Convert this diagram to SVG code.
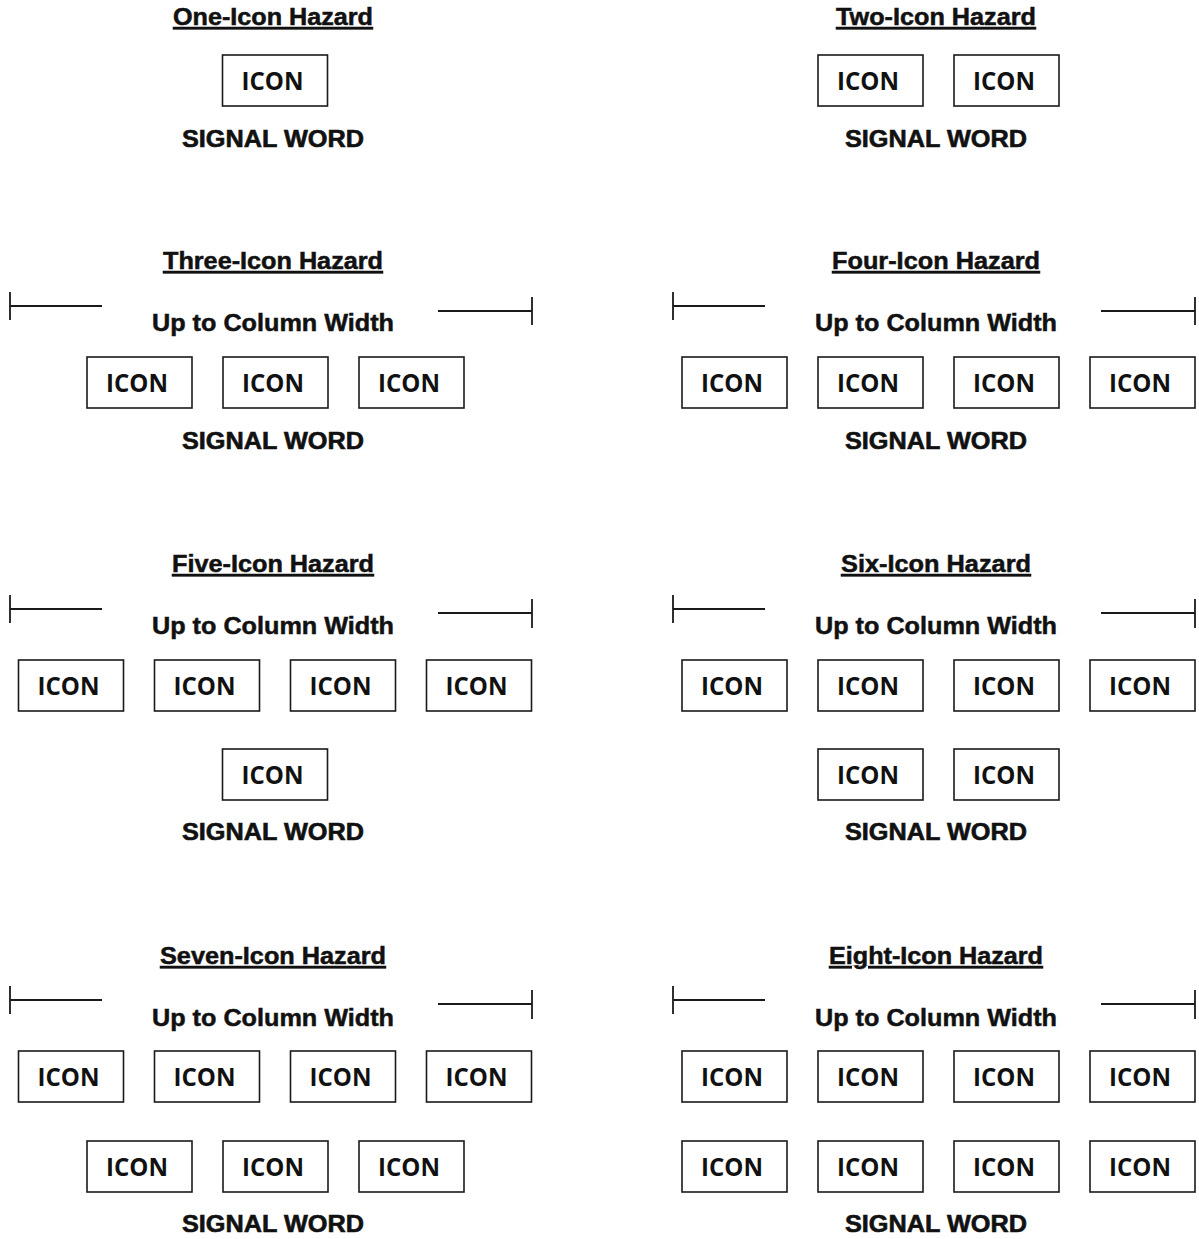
<svg xmlns="http://www.w3.org/2000/svg" width="1199" height="1239" viewBox="0 0 1199 1239">
<style>
.bg{fill:#fff}
.box{fill:#fff;stroke:#1a1a1a;stroke-width:1.6}
.bar{stroke:#1a1a1a;stroke-width:1.8;fill:none}
.icon{font-family:"Open Sans","Liberation Sans",sans-serif;font-weight:700;font-size:25.5px;fill:#111;text-anchor:middle}
.title{font-family:"Liberation Sans",Arial,sans-serif;font-weight:700;font-size:23px;fill:#111;stroke:#111;stroke-width:0.5;text-anchor:middle;text-decoration:underline}
.sig{font-family:"Liberation Sans",Arial,sans-serif;font-weight:700;font-size:23.5px;fill:#111;stroke:#111;stroke-width:0.6;text-anchor:middle}
.up{font-family:"Liberation Sans",Arial,sans-serif;font-weight:700;font-size:24px;fill:#111;stroke:#111;stroke-width:0.5;text-anchor:middle}
</style>
<defs>
<g id="iconbox">
<rect class="box" x="0" y="0" width="105" height="51"/>
<text class="icon" x="50" y="35" textLength="62" lengthAdjust="spacingAndGlyphs">ICON</text>
</g>
</defs>
<rect class="bg" width="1199" height="1239"/>

<g id="connectors">
<path class="bar" d="M10 292V320M10 306H102M438 311H532M532 297V325"/>
<path class="bar" d="M673 292V320M673 306H765M1101 311H1195M1195 297V325"/>
<path class="bar" d="M10 595V623M10 609H102M438 613H532M532 599V628"/>
<path class="bar" d="M673 595V623M673 609H765M1101 613H1195M1195 599V628"/>
<path class="bar" d="M10 986V1014M10 1000H102M438 1004H532M532 990V1019"/>
<path class="bar" d="M673 986V1014M673 1000H765M1101 1004H1195M1195 990V1019"/>
</g>

<!-- One-Icon -->
<g id="one-title"><text class="title" x="273" y="25" textLength="200" lengthAdjust="spacingAndGlyphs">One-Icon Hazard</text></g>
<g id="one-icon1"><use href="#iconbox" x="222.5" y="55"/></g>
<g id="one-signal"><text class="sig" x="273" y="147" textLength="182" lengthAdjust="spacingAndGlyphs">SIGNAL WORD</text></g>

<!-- Two-Icon -->
<g id="two-title"><text class="title" x="936" y="25" textLength="200" lengthAdjust="spacingAndGlyphs">Two-Icon Hazard</text></g>
<g id="two-icon1"><use href="#iconbox" x="818" y="55"/></g>
<g id="two-icon2"><use href="#iconbox" x="954" y="55"/></g>
<g id="two-signal"><text class="sig" x="936" y="147" textLength="182" lengthAdjust="spacingAndGlyphs">SIGNAL WORD</text></g>

<!-- Three-Icon -->
<g id="three-title"><text class="title" x="273" y="269" textLength="220" lengthAdjust="spacingAndGlyphs">Three-Icon Hazard</text></g>
<g id="three-width"><text class="up" x="273" y="331" textLength="242" lengthAdjust="spacingAndGlyphs">Up to Column Width</text></g>
<g id="three-icon1"><use href="#iconbox" x="87" y="357"/></g>
<g id="three-icon2"><use href="#iconbox" x="223" y="357"/></g>
<g id="three-icon3"><use href="#iconbox" x="359" y="357"/></g>
<g id="three-signal"><text class="sig" x="273" y="449" textLength="182" lengthAdjust="spacingAndGlyphs">SIGNAL WORD</text></g>

<!-- Four-Icon -->
<g id="four-title"><text class="title" x="936" y="269" textLength="208" lengthAdjust="spacingAndGlyphs">Four-Icon Hazard</text></g>
<g id="four-width"><text class="up" x="936" y="331" textLength="242" lengthAdjust="spacingAndGlyphs">Up to Column Width</text></g>
<g id="four-icon1"><use href="#iconbox" x="682" y="357"/></g>
<g id="four-icon2"><use href="#iconbox" x="818" y="357"/></g>
<g id="four-icon3"><use href="#iconbox" x="954" y="357"/></g>
<g id="four-icon4"><use href="#iconbox" x="1090" y="357"/></g>
<g id="four-signal"><text class="sig" x="936" y="449" textLength="182" lengthAdjust="spacingAndGlyphs">SIGNAL WORD</text></g>

<!-- Five-Icon -->
<g id="five-title"><text class="title" x="273" y="572" textLength="202" lengthAdjust="spacingAndGlyphs">Five-Icon Hazard</text></g>
<g id="five-width"><text class="up" x="273" y="634" textLength="242" lengthAdjust="spacingAndGlyphs">Up to Column Width</text></g>
<g id="five-icon1"><use href="#iconbox" x="18.5" y="660"/></g>
<g id="five-icon2"><use href="#iconbox" x="154.5" y="660"/></g>
<g id="five-icon3"><use href="#iconbox" x="290.5" y="660"/></g>
<g id="five-icon4"><use href="#iconbox" x="426.5" y="660"/></g>
<g id="five-icon5"><use href="#iconbox" x="222.5" y="749"/></g>
<g id="five-signal"><text class="sig" x="273" y="840" textLength="182" lengthAdjust="spacingAndGlyphs">SIGNAL WORD</text></g>

<!-- Six-Icon -->
<g id="six-title"><text class="title" x="936" y="572" textLength="190" lengthAdjust="spacingAndGlyphs">Six-Icon Hazard</text></g>
<g id="six-width"><text class="up" x="936" y="634" textLength="242" lengthAdjust="spacingAndGlyphs">Up to Column Width</text></g>
<g id="six-icon1"><use href="#iconbox" x="682" y="660"/></g>
<g id="six-icon2"><use href="#iconbox" x="818" y="660"/></g>
<g id="six-icon3"><use href="#iconbox" x="954" y="660"/></g>
<g id="six-icon4"><use href="#iconbox" x="1090" y="660"/></g>
<g id="six-icon5"><use href="#iconbox" x="818" y="749"/></g>
<g id="six-icon6"><use href="#iconbox" x="954" y="749"/></g>
<g id="six-signal"><text class="sig" x="936" y="840" textLength="182" lengthAdjust="spacingAndGlyphs">SIGNAL WORD</text></g>

<!-- Seven-Icon -->
<g id="seven-title"><text class="title" x="273" y="964" textLength="226" lengthAdjust="spacingAndGlyphs">Seven-Icon Hazard</text></g>
<g id="seven-width"><text class="up" x="273" y="1026" textLength="242" lengthAdjust="spacingAndGlyphs">Up to Column Width</text></g>
<g id="seven-icon1"><use href="#iconbox" x="18.5" y="1051"/></g>
<g id="seven-icon2"><use href="#iconbox" x="154.5" y="1051"/></g>
<g id="seven-icon3"><use href="#iconbox" x="290.5" y="1051"/></g>
<g id="seven-icon4"><use href="#iconbox" x="426.5" y="1051"/></g>
<g id="seven-icon5"><use href="#iconbox" x="87" y="1141"/></g>
<g id="seven-icon6"><use href="#iconbox" x="223" y="1141"/></g>
<g id="seven-icon7"><use href="#iconbox" x="359" y="1141"/></g>
<g id="seven-signal"><text class="sig" x="273" y="1232" textLength="182" lengthAdjust="spacingAndGlyphs">SIGNAL WORD</text></g>

<!-- Eight-Icon -->
<g id="eight-title"><text class="title" x="936" y="964" textLength="214" lengthAdjust="spacingAndGlyphs">Eight-Icon Hazard</text></g>
<g id="eight-width"><text class="up" x="936" y="1026" textLength="242" lengthAdjust="spacingAndGlyphs">Up to Column Width</text></g>
<g id="eight-icon1"><use href="#iconbox" x="682" y="1051"/></g>
<g id="eight-icon2"><use href="#iconbox" x="818" y="1051"/></g>
<g id="eight-icon3"><use href="#iconbox" x="954" y="1051"/></g>
<g id="eight-icon4"><use href="#iconbox" x="1090" y="1051"/></g>
<g id="eight-icon5"><use href="#iconbox" x="682" y="1141"/></g>
<g id="eight-icon6"><use href="#iconbox" x="818" y="1141"/></g>
<g id="eight-icon7"><use href="#iconbox" x="954" y="1141"/></g>
<g id="eight-icon8"><use href="#iconbox" x="1090" y="1141"/></g>
<g id="eight-signal"><text class="sig" x="936" y="1232" textLength="182" lengthAdjust="spacingAndGlyphs">SIGNAL WORD</text></g>
</svg>
